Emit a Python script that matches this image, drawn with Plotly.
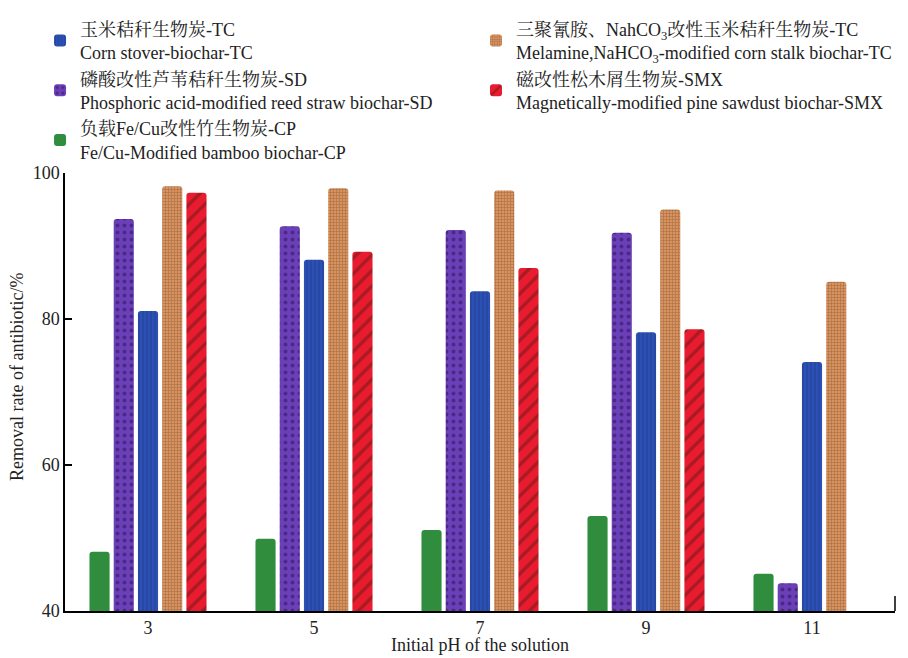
import plotly.graph_objects as go

ph = [3, 5, 7, 9, 11]
tick_labels = ["3", "5", "7", "9", "11"]
y_ticks = [40, 60, 80, 100]

cp = [48.1, 49.9, 51.1, 53.0, 45.1]
sd = [93.7, 92.7, 92.2, 91.8, 43.8]
tc = [81.1, 88.1, 83.8, 78.2, 74.1]
mel = [98.2, 97.9, 97.6, 95.0, 85.1]
smx = [97.3, 89.2, 87.0, 78.6, None]

names = {
    "cp": "负载Fe/Cu改性竹生物炭-CP<br>Fe/Cu-Modified bamboo biochar-CP",
    "sd": "磷酸改性芦苇秸秆生物炭-SD<br>Phosphoric acid-modified reed straw biochar-SD",
    "tc": "玉米秸秆生物炭-TC<br>Corn stover-biochar-TC",
    "mel": "三聚氰胺、NahCO<sub>3</sub>改性玉米秸秆生物炭-TC<br>Melamine,NaHCO<sub>3</sub>-modified corn stalk biochar-TC",
    "smx": "磁改性松木屑生物炭-SMX<br>Magnetically-modified pine sawdust biochar-SMX",
}

FONT = "Liberation Serif, Times New Roman, Noto Serif CJK SC, Noto Sans CJK SC, serif"

fig = go.Figure()
fig.add_trace(go.Bar(
    x=ph, y=cp, name=names["cp"], legend="legend", legendrank=3,
    marker=dict(color="#2f8d3d", line=dict(width=0)),
))
fig.add_trace(go.Bar(
    x=ph, y=sd, name=names["sd"], legend="legend", legendrank=2,
    marker=dict(color="#6a3fb8", line=dict(width=0),
                pattern=dict(shape=".", bgcolor="#6a3fb8", fgcolor="#2a1450",
                             size=7, solidity=0.25, fillmode="overlay")),
))
fig.add_trace(go.Bar(
    x=ph, y=tc, name=names["tc"], legend="legend", legendrank=1,
    marker=dict(color="#2c50b4", line=dict(width=0),
                pattern=dict(shape="|", bgcolor="#2c50b4", fgcolor="#1c3a8a",
                             size=4, solidity=0.35, fillmode="overlay")),
))
fig.add_trace(go.Bar(
    x=ph, y=mel, name=names["mel"], legend="legend2", legendrank=1,
    marker=dict(color="#d8935f", line=dict(width=0),
                pattern=dict(shape="+", bgcolor="#d8935f", fgcolor="#7a4a2c",
                             size=3, solidity=0.35, fillmode="overlay")),
))
fig.add_trace(go.Bar(
    x=ph, y=smx, name=names["smx"], legend="legend2", legendrank=2,
    marker=dict(color="#e81c2e", line=dict(width=0),
                pattern=dict(shape="/", bgcolor="#e81c2e", fgcolor="#6a1818",
                             size=11, solidity=0.3, fillmode="overlay")),
))

legend_common = dict(
    font=dict(family=FONT, size=18, color="#222"),
    bgcolor="rgba(0,0,0,0)", borderwidth=0,
    orientation="v", yanchor="top", xanchor="left",
    xref="container", yref="container",
    itemwidth=30, tracegroupgap=0,
)

fig.update_layout(
    width=900, height=650,
    margin=dict(l=57, r=13, t=165, b=47, autoexpand=False),
    paper_bgcolor="white", plot_bgcolor="white",
    barmode="group", bargap=0.27, bargroupgap=0.17, barcornerradius=3,
    font=dict(family=FONT, size=18, color="#222"),
    legend=dict(x=0.0356, y=0.996, **legend_common),
    legend2=dict(x=0.52, y=0.996, **legend_common),
    xaxis=dict(range=[2, 12], tickvals=ph, ticktext=tick_labels,
               showline=True, linecolor="black", linewidth=1.5,
               ticks="", showgrid=False, zeroline=False,
               tickfont=dict(family=FONT, size=18, color="#222")),
    yaxis=dict(range=[40, 100], tickvals=y_ticks,
               showline=True, linecolor="black", linewidth=1.5,
               ticks="inside", ticklen=7, tickwidth=1.5, tickcolor="black",
               showgrid=False, zeroline=False,
               tickfont=dict(family=FONT, size=18, color="#222")),
    shapes=[dict(type="line", xref="paper", yref="paper", x0=1, x1=1, y0=0, y1=0.034,
                 line=dict(color="black", width=1.5))],
    annotations=[
        dict(text="Removal rate of antibiotic/%", xref="paper", yref="paper",
             x=-0.058, y=0.534, xanchor="center", yanchor="middle", textangle=-90,
             showarrow=False, font=dict(family=FONT, size=18, color="#222")),
        dict(text="Initial pH of the solution", xref="paper", yref="paper",
             x=0.5, y=-0.078, xanchor="center", yanchor="middle",
             showarrow=False, font=dict(family=FONT, size=18, color="#222")),
    ],
)

fig.write_html("out.html")
